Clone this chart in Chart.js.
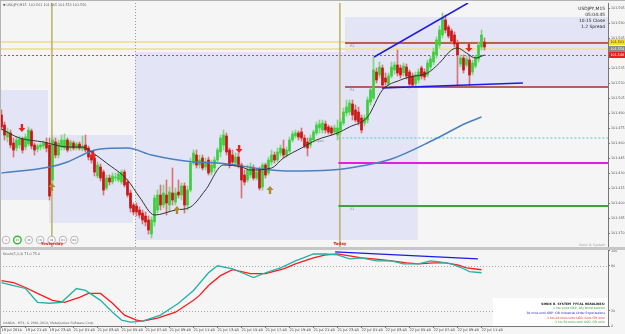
<!DOCTYPE html>
<html>
<head>
<meta charset="utf-8">
<title>USDJPY,M15</title>
<script src="https://cdn.jsdelivr.net/npm/chart.js@4.4.1/dist/chart.umd.min.js"></script>
<style>
  html, body { margin: 0; padding: 0; background: #f5f5f5; }
  #wrap { position: relative; width: 625px; height: 334px; overflow: hidden; }
  canvas { position: absolute; left: 0; }
  #main { top: 0; }
  #sub { top: 248px; }
  #sep { position: absolute; left: 0; top: 247px; width: 625px; height: 3px; background: #c6c6c6; }
  #edge { position: absolute; left: 0; top: 0; width: 625px; height: 334px; box-sizing: border-box;
          border-top: 1px solid #b4b4b4; border-left: 1px solid #b4b4b4; pointer-events: none; }
</style>
</head>
<body>
<div id="wrap">
  <canvas id="main" width="625" height="251"></canvas>
  <canvas id="sub" width="625" height="86"></canvas>
  <div id="sep"></div>
  <div id="edge"></div>
</div>
<script>
"use strict";

// USDJPY M15 candles, bar 0 = 18 Jul 19:45
const opens = [
  101.488,101.478,101.466,101.470,101.460,101.455,101.458,101.464,101.456,101.459,
  101.472,101.458,101.454,101.456,101.457,101.460,101.458,101.423,101.461,101.448,
  101.456,101.455,101.463,101.455,101.460,101.455,101.459,101.454,101.458,101.455,
  101.448,101.445,101.427,101.436,101.431,101.415,101.425,101.421,101.425,101.423,
  101.421,101.431,101.421,101.410,101.398,101.397,101.393,101.390,101.387,101.383,
  101.369,101.381,101.393,101.408,101.398,101.408,101.398,101.410,101.401,101.411,
  101.408,101.417,101.398,101.413,101.440,101.448,101.438,101.445,101.436,101.443,
  101.431,101.435,101.443,101.451,101.458,101.467,101.453,101.448,101.440,101.446,
  101.438,101.428,101.423,101.428,101.435,101.425,101.433,101.416,101.438,101.430,
  101.441,101.448,101.443,101.450,101.454,101.448,101.452,101.463,101.467,101.470,
  101.471,101.465,101.461,101.458,101.463,101.470,101.475,101.473,101.479,101.476,
  101.475,101.471,101.468,101.473,101.480,101.490,101.491,101.499,101.493,101.491,
  101.485,101.480,101.483,101.501,101.505,101.531,101.528,101.535,101.525,101.519,
  101.527,101.533,101.538,101.535,101.530,101.536,101.531,101.527,101.519,101.523,
  101.535,101.531,101.528,101.536,101.541,101.548,101.558,101.568,101.583,101.576,
  101.572,101.568,101.560,101.539,101.545,101.538,101.543,101.531,101.537,101.544,
  101.556,101.561
];
const highs = [
  101.493,101.481,101.475,101.473,101.465,101.466,101.467,101.466,101.469,101.476,
  101.474,101.460,101.459,101.460,101.462,101.465,101.465,101.466,101.465,101.463,
  101.468,101.469,101.465,101.463,101.462,101.461,101.461,101.467,101.468,101.457,
  101.451,101.447,101.441,101.439,101.433,101.428,101.428,101.430,101.430,101.431,
  101.433,101.433,101.423,101.413,101.400,101.400,101.396,101.393,101.391,101.387,
  101.386,101.408,101.413,101.418,101.418,101.423,101.416,101.435,101.415,101.423,
  101.420,101.420,101.417,101.445,101.453,101.453,101.448,101.448,101.445,101.446,
  101.443,101.446,101.455,101.468,101.473,101.470,101.455,101.453,101.450,101.450,
  101.440,101.433,101.438,101.440,101.438,101.435,101.436,101.440,101.440,101.446,
  101.453,101.451,101.455,101.458,101.463,101.456,101.466,101.472,101.473,101.472,
  101.475,101.468,101.465,101.468,101.473,101.481,101.483,101.483,101.482,101.478,
  101.477,101.478,101.483,101.485,101.495,101.503,101.503,101.503,101.498,101.496,
  101.488,101.488,101.506,101.515,101.546,101.535,101.541,101.538,101.530,101.530,
  101.541,101.541,101.553,101.538,101.540,101.539,101.533,101.530,101.531,101.534,
  101.537,101.534,101.543,101.547,101.555,101.566,101.577,101.590,101.588,101.578,
  101.574,101.571,101.563,101.548,101.548,101.547,101.547,101.543,101.548,101.561,
  101.573,101.565
];
const lows = [
  101.473,101.463,101.461,101.455,101.446,101.452,101.455,101.450,101.453,101.457,
  101.454,101.448,101.451,101.453,101.454,101.451,101.403,101.418,101.445,101.445,
  101.453,101.453,101.451,101.452,101.453,101.453,101.453,101.452,101.451,101.443,
  101.440,101.427,101.425,101.422,101.408,101.413,101.418,101.419,101.422,101.421,
  101.419,101.416,101.406,101.391,101.388,101.387,101.385,101.379,101.377,101.369,
  101.365,101.377,101.390,101.393,101.395,101.388,101.391,101.398,101.398,101.405,
  101.403,101.390,101.393,101.411,101.438,101.435,101.435,101.433,101.433,101.428,
  101.428,101.431,101.440,101.446,101.453,101.448,101.435,101.438,101.437,101.435,
  101.405,101.418,101.421,101.425,101.423,101.423,101.413,101.413,101.425,101.428,
  101.438,101.440,101.441,101.447,101.445,101.446,101.450,101.461,101.465,101.463,
  101.462,101.455,101.447,101.455,101.461,101.468,101.470,101.470,101.470,101.469,
  101.468,101.469,101.463,101.469,101.478,101.487,101.488,101.483,101.481,101.478,
  101.470,101.477,101.480,101.498,101.503,101.520,101.525,101.515,101.518,101.515,
  101.525,101.529,101.527,101.525,101.527,101.524,101.515,101.516,101.517,101.520,
  101.524,101.523,101.526,101.533,101.538,101.545,101.555,101.565,101.570,101.565,
  101.559,101.556,101.518,101.536,101.530,101.536,101.517,101.528,101.535,101.541,
  101.553,101.553
];
const closes = [
  101.476,101.468,101.471,101.458,101.453,101.463,101.464,101.453,101.466,101.473,
  101.457,101.453,101.457,101.458,101.460,101.455,101.407,101.463,101.448,101.460,
  101.463,101.463,101.453,101.461,101.455,101.459,101.455,101.457,101.453,101.446,
  101.443,101.431,101.438,101.425,101.413,101.425,101.421,101.427,101.426,101.429,
  101.431,101.418,101.408,101.395,101.391,101.391,101.388,101.383,101.381,101.373,
  101.383,101.405,101.408,101.398,101.410,101.400,101.411,101.403,101.410,101.408,
  101.417,101.398,101.413,101.440,101.450,101.438,101.443,101.435,101.441,101.430,
  101.438,101.443,101.453,101.465,101.468,101.451,101.438,101.441,101.446,101.438,
  101.423,101.421,101.433,101.436,101.425,101.431,101.415,101.438,101.428,101.443,
  101.448,101.443,101.451,101.455,101.448,101.453,101.463,101.469,101.470,101.466,
  101.465,101.457,101.455,101.465,101.471,101.478,101.479,101.480,101.473,101.471,
  101.470,101.475,101.475,101.481,101.491,101.496,101.500,101.488,101.483,101.481,
  101.473,101.485,101.503,101.513,101.533,101.523,101.536,101.518,101.521,101.527,
  101.536,101.538,101.530,101.528,101.537,101.527,101.519,101.518,101.528,101.531,
  101.527,101.526,101.540,101.544,101.551,101.563,101.573,101.585,101.573,101.567,
  101.562,101.559,101.548,101.545,101.533,101.544,101.528,101.540,101.546,101.558,
  101.568,101.556
];

// moving averages (read at a few bars)
const fastMaAt = [0, 6, 14, 22, 27, 30, 35, 42, 46, 51, 58, 63, 68, 74, 80, 83, 90, 94, 100, 105, 112, 116, 122, 127, 133, 136, 142, 146, 150, 152, 155, 158, 161];
const fastMa = [101.474, 101.465, 101.461, 101.456, 101.456, 101.451, 101.440, 101.423, 101.406, 101.388, 101.393, 101.396, 101.413, 101.438, 101.436, 101.433, 101.435, 101.445, 101.455, 101.463, 101.470, 101.476, 101.486, 101.513, 101.523, 101.526, 101.530, 101.540, 101.553, 101.555, 101.550, 101.545, 101.548];
const slowMaAt = [0, 16, 22, 30, 33, 42, 50, 64, 72, 90, 96, 110, 116, 130, 144, 155, 160];
const slowMa = [101.430, 101.436, 101.441, 101.452, 101.454, 101.455, 101.448, 101.441, 101.440, 101.433, 101.432, 101.433, 101.435, 101.444, 101.463, 101.480, 101.486];

// stochastic
const stochMainAt = [0, 4, 8, 12, 16, 20, 25, 28, 33, 37, 40, 43, 47, 53, 59, 64, 69, 72, 77, 84, 88, 93, 98, 104, 108, 112, 116, 120, 125, 130, 134, 139, 143, 146, 150, 154, 156, 160];
const stochMain = [57.9, 53.9, 50, 31.6, 30.3, 31.6, 50, 47.4, 34.2, 18.4, 7.9, 5.3, 6.6, 14.5, 30.3, 47.4, 71, 80.3, 76.3, 64.5, 71, 77.6, 86.8, 96, 96, 94.7, 89.5, 90.8, 86.8, 86.8, 82.9, 82.9, 86.8, 85.5, 82.9, 76.3, 72.4, 71];
const stochSignalAt = [0, 4, 8, 12, 17, 21, 26, 29, 33, 37, 41, 45, 47, 52, 58, 64, 66, 69, 73, 77, 83, 88, 94, 98, 104, 108, 112, 116, 120, 124, 130, 135, 139, 144, 148, 152, 155, 160];
const stochSignal = [60.5, 57.9, 51.3, 43.4, 34.2, 31.6, 38.2, 43.4, 43.4, 30.3, 14.5, 7.9, 6.6, 10.5, 18.4, 34.2, 40.8, 53.9, 67.1, 75, 69.7, 69.7, 76.3, 82.9, 90.8, 94.7, 96, 93.4, 90.8, 89.5, 86.8, 84.2, 82.9, 84.2, 84.2, 81.6, 77.6, 75];
const stochTrendAt = [111.2, 158.8];
const stochTrend = [98.7, 89.5];

// zones (bar from/to, price top/bottom)
const zoneFrom = [-0.5, 15.8, 44.5, 114.5];
const zoneTo = [15.5, 43.8, 138.8, 202.2];
const zoneTop = [101.513, 101.468, 101.551, 101.586];
const zoneBottom = [101.403, 101.380, 101.363, 101.515];

// levels
const dayLevels = [101.561, 101.554];
const bidPrice = 101.548;
const levelPrice = [101.560, 101.516, 101.465, 101.440, 101.397];
const levelFrom = [114.5, 114.5, 112.3, 112.3, 112.3];
const levelName = ['R2', 'R1', 'Open', '', 'S1'];
const levelNameAt = [117, 117, 106, 0, 117];

// trend lines
const upperTrendAt = [124.2, 155.5];
const upperTrend = [101.546, 101.600];
const lowerTrendAt = [126.8, 173.8];
const lowerTrend = [101.515, 101.520];

// signal arrows
const downAt = [6.8, 30.5, 79.2, 155.8];
const downPrice = [101.475, 101.448, 101.454, 101.555];
const upAt = [16.8, 58.5, 89.5];
const upPrice = [101.416, 101.393, 101.413];

// day lines and session break
const dayStarts = [16.8, 112.8];
const dayNames = ['Yesterday', 'Today'];
const sessionBreak = 44.5;

// axes
const priceTicks = [101.370, 101.385, 101.400, 101.415, 101.430, 101.445, 101.460, 101.475, 101.490, 101.505, 101.520, 101.535, 101.550, 101.565, 101.580, 101.595];
const stochTicks = [0, 20, 80, 100];
const stochLevels = [20, 80];
const timeAt = [0, 8, 16, 24, 32, 40, 48, 56, 64, 72, 80, 88, 96, 104, 112, 120, 128, 136, 144, 152, 160];
const timeLabels = ['18 Jul 2014', '18 Jul 21:45', '18 Jul 23:45', '21 Jul 01:45', '21 Jul 03:45', '21 Jul 05:45',
  '21 Jul 07:45', '21 Jul 09:45', '21 Jul 11:45', '21 Jul 13:45', '21 Jul 15:45', '21 Jul 17:45', '21 Jul 19:45',
  '21 Jul 21:45', '21 Jul 23:45', '22 Jul 01:45', '22 Jul 03:45', '22 Jul 05:45', '22 Jul 07:45', '22 Jul 09:45', '22 Jul 11:45'];

const infoLines = ['USDJPY,M15', '05:04:45', '10:15 Close', '1.2 Spread'];
const newsLines = ['SONIC R. SYSTEM  FFCAL HEADLINES:', '1 hrs since GBP: 10y Bond Auction',
  '38 mins until GBP: CBI Industrial Order Expectations', '3 hrs 28 mins until USD: Core CPI m/m',
  '3 hrs 58 mins until USD: CPI m/m'];
const buttonNames = ['1', '15', '30', 'H1', 'H4', 'D1', 'W1'];

const X_MIN = -0.5, X_MAX = 202.17;
const FONT = '"DejaVu Sans", sans-serif';

Chart.defaults.font.family = FONT;
Chart.defaults.color = '#444';

// helpers
function hLine(ctx, x0, x1, y) { ctx.beginPath(); ctx.moveTo(x0, y); ctx.lineTo(x1, y); ctx.stroke(); }
function vLine(ctx, x, y0, y1) { ctx.beginPath(); ctx.moveTo(x, y0); ctx.lineTo(x, y1); ctx.stroke(); }
function text(ctx, s, x, y, size, color, align, bold) {
  ctx.font = (bold ? 'bold ' : '') + size + 'px ' + FONT;
  ctx.fillStyle = color;
  ctx.textAlign = align || 'left';
  ctx.textBaseline = 'middle';
  ctx.fillText(s, x, y);
}
function arrow(ctx, cx, cy, down, color) {
  const s = down ? 1 : -1;
  ctx.fillStyle = color;
  ctx.beginPath();
  ctx.moveTo(cx - 1.2, cy - 4 * s);
  ctx.lineTo(cx + 1.2, cy - 4 * s);
  ctx.lineTo(cx + 1.2, cy);
  ctx.lineTo(cx + 3.5, cy);
  ctx.lineTo(cx, cy + 4 * s);
  ctx.lineTo(cx - 3.5, cy);
  ctx.lineTo(cx - 1.2, cy);
  ctx.closePath();
  ctx.fill();
}
function pts(xs, ys) { return xs.map((v, i) => ({ x: v, y: ys[i] })); }

// Main chart decorations
const mainDecor = {
  id: 'mainDecor',
  beforeDatasetsDraw(chart) {
    const { ctx, chartArea: a, scales: { x, y } } = chart;
    ctx.save();
    ctx.beginPath(); ctx.rect(a.left, a.top, a.right - a.left, a.bottom - a.top); ctx.clip();
    ctx.fillStyle = '#e4e4f7';
    zoneFrom.forEach((f, i) => {
      const x0 = x.getPixelForValue(f), x1 = x.getPixelForValue(zoneTo[i]);
      const y0 = y.getPixelForValue(zoneTop[i]), y1 = y.getPixelForValue(zoneBottom[i]);
      ctx.fillRect(x0, y0, x1 - x0, y1 - y0);
    });
    ctx.lineWidth = 2; ctx.strokeStyle = '#efe2a6';
    dayLevels.forEach(p => hLine(ctx, a.left, a.right, Math.round(y.getPixelForValue(p))));
    ctx.lineWidth = 1; ctx.setLineDash([2, 2]); ctx.strokeStyle = '#d84646';
    hLine(ctx, a.left, a.right, Math.round(y.getPixelForValue(bidPrice)) + 0.5);
    ctx.setLineDash([1, 2]); ctx.strokeStyle = '#9a9a9a';
    vLine(ctx, Math.round(x.getPixelForValue(sessionBreak)) + 0.5, a.top, a.bottom);
    ctx.setLineDash([]); ctx.strokeStyle = '#bcad66'; ctx.lineWidth = 1.5;
    dayStarts.forEach(v => vLine(ctx, x.getPixelForValue(v), a.top, a.bottom));
    ctx.restore();
  },
  afterDatasetsDraw(chart) {
    const { ctx, scales: { x, y } } = chart;
    ctx.save();
    downAt.forEach((v, i) => arrow(ctx, x.getPixelForValue(v), y.getPixelForValue(downPrice[i]), true, '#e8251e'));
    upAt.forEach((v, i) => arrow(ctx, x.getPixelForValue(v), y.getPixelForValue(upPrice[i]), false, '#ad8a2c'));
    levelName.forEach((n, i) => {
      if (n) text(ctx, n, x.getPixelForValue(levelNameAt[i]), y.getPixelForValue(levelPrice[i]) + 3.5, 3.4, '#8a8a8a', 'center');
    });
    ctx.restore();
  },
  afterDraw(chart) {
    const { ctx, chartArea: a, scales: { x, y } } = chart;
    ctx.save();
    // price tags on the axis
    const tags = [[dayLevels[0], '#f4e21c', '#333'], [dayLevels[1], '#8a8a8a', '#fff'], [bidPrice, '#e62020', '#fff']];
    tags.forEach(([p, bg, fg]) => {
      const py = Math.round(y.getPixelForValue(p));
      ctx.fillStyle = bg;
      ctx.fillRect(a.right + 1, py - 3, chart.width - a.right - 1, 6);
      text(ctx, p.toFixed(3), a.right + 2.5, py + 0.3, 3.3, fg);
    });
    // header texts
    const n = closes.length - 1;
    text(ctx, '\u25BC USDJPY,M15  ' + [opens[n], highs[n], lows[n], closes[n]].map(v => v.toFixed(3)).join(' '),
      3, 5, 3.3, '#555');
    infoLines.forEach((s, i) => text(ctx, s, a.right - 3, 9 + i * 6, 4.4, '#222', 'right'));
    // timeframe buttons
    buttonNames.forEach((b, i) => {
      const cx = 6 + i * 11.4, cy = 240;
      ctx.beginPath(); ctx.arc(cx, cy, 3.8, 0, Math.PI * 2);
      ctx.fillStyle = '#f8f8f8'; ctx.fill();
      ctx.lineWidth = i === 1 ? 1.4 : 0.8; ctx.strokeStyle = i === 1 ? '#2fbf2f' : '#a8a8a8'; ctx.stroke();
      text(ctx, b, cx, cy + 0.2, 2.6, '#666', 'center');
    });
    // day names on top of the buttons
    dayStarts.forEach((v, i) => text(ctx, dayNames[i], x.getPixelForValue(v), i ? 244 : 243.5, 4, '#e02020', 'center', true));
    text(ctx, 'Sonic R. System', a.right - 3, 245, 3.2, '#9a9a9a', 'right');
    ctx.restore();
  }
};

const up = closes.map((c, i) => c >= opens[i]);

new Chart(document.getElementById('main'), {
  type: 'bar',
  data: {
    datasets: [
      ...levelPrice.map((p, i) => ({
        type: 'line', data: [{ x: levelFrom[i], y: p }, { x: X_MAX, y: p }],
        borderColor: ['#a83232', '#a83232', '#4cc6c6', '#e020e0', '#3fa23f'][i],
        borderWidth: [1.5, 1.5, 1, 2, 2][i], borderDash: i === 2 ? [2, 2] : [],
        pointRadius: 0, order: 6
      })),
      { type: 'bar', data: lows.map((l, i) => ({ x: i, y: [l, highs[i]] })),
        backgroundColor: up.map(u => u ? '#7ed87e' : '#da7272'), barThickness: 1, grouped: false, order: 5 },
      { type: 'bar', data: opens.map((o, i) => ({ x: i, y: [o, closes[i]] })),
        backgroundColor: up.map(u => u ? '#3ccf3c' : '#cc1414'), barThickness: 2, minBarLength: 1, grouped: false, order: 4 },
      { type: 'line', data: pts(slowMaAt, slowMa), borderColor: '#4a80c0', borderWidth: 1.5,
        pointRadius: 0, cubicInterpolationMode: 'monotone', order: 2 },
      { type: 'line', data: pts(fastMaAt, fastMa), borderColor: '#333333', borderWidth: 1,
        pointRadius: 0, cubicInterpolationMode: 'monotone', order: 1 },
      { type: 'line', data: pts(upperTrendAt, upperTrend), borderColor: '#1c1ce0', borderWidth: 1.5, pointRadius: 0, order: 0 },
      { type: 'line', data: pts(lowerTrendAt, lowerTrend), borderColor: '#1c1ce0', borderWidth: 1.5, pointRadius: 0, order: 0 }
    ]
  },
  options: {
    responsive: false,
    animation: false,
    events: [],
    layout: { padding: { top: 3, left: 0, right: 0, bottom: 0 } },
    plugins: { legend: { display: false }, tooltip: { enabled: false } },
    scales: {
      x: { type: 'linear', min: X_MIN, max: X_MAX, offset: false, display: false },
      y: {
        position: 'right', min: 101.355, max: 101.600,
        afterFit: s => { s.width = 17; },
        afterBuildTicks: s => { s.ticks = priceTicks.map(v => ({ value: v })); },
        ticks: { font: { size: 3.3 }, color: '#555', padding: 1, callback: v => Number(v).toFixed(3) },
        grid: { drawOnChartArea: false, tickLength: 2, color: '#777' },
        border: { display: true, color: '#777' }
      }
    }
  },
  plugins: [mainDecor]
});

// Lower panel decorations
const subDecor = {
  id: 'subDecor',
  beforeDatasetsDraw(chart) {
    const { ctx, chartArea: a, scales: { x, y } } = chart;
    ctx.save();
    ctx.lineWidth = 1; ctx.setLineDash([1, 2]); ctx.strokeStyle = '#a8a8a8';
    stochLevels.forEach(v => hLine(ctx, a.left, a.right, Math.round(y.getPixelForValue(v)) + 0.5));
    ctx.strokeStyle = '#9a9a9a';
    vLine(ctx, Math.round(x.getPixelForValue(sessionBreak)) + 0.5, a.top, a.bottom);
    ctx.restore();
  },
  afterDraw(chart) {
    const { ctx, chartArea: a } = chart;
    ctx.save();
    const n = stochMain.length - 1;
    text(ctx, 'Stoch(5,3,3) ' + stochMain[n].toFixed(1) + ' ' + stochSignal[stochSignal.length - 1].toFixed(1),
      3, a.top + 3, 3.3, '#555');
    text(ctx, 'OANDA - MT4, \u00A9 2001-2014, MetaQuotes Software Corp.', 3, a.bottom - 3, 3.2, '#666');
    const bx = a.right - 115, by = a.bottom - 28;
    ctx.fillStyle = '#ffffff';
    ctx.fillRect(bx, by, a.right - bx, a.bottom - by);
    const colors = ['#111', '#2a9a2a', '#1a1ae0', '#e02020', '#2a9a2a'];
    newsLines.forEach((s, i) => text(ctx, s, a.right - 3, by + 6 + i * 4.6, 3, colors[i], 'right', i === 0));
    ctx.restore();
  }
};

new Chart(document.getElementById('sub'), {
  type: 'line',
  data: {
    datasets: [
      { data: pts(stochMainAt, stochMain), borderColor: '#22b2a8', borderWidth: 1.3, pointRadius: 0 },
      { data: pts(stochSignalAt, stochSignal), borderColor: '#ff1a1a', borderWidth: 1.3, pointRadius: 0 },
      { data: pts(stochTrendAt, stochTrend), borderColor: '#1c1ce0', borderWidth: 1.3, pointRadius: 0 }
    ]
  },
  options: {
    responsive: false,
    animation: false,
    events: [],
    layout: { padding: { top: 2, left: 0, right: 0, bottom: 0 } },
    plugins: { legend: { display: false }, tooltip: { enabled: false } },
    scales: {
      x: {
        type: 'linear', min: X_MIN, max: X_MAX, offset: false,
        afterFit: s => { s.height = 8; },
        afterBuildTicks: s => { s.ticks = timeAt.map(v => ({ value: v })); },
        ticks: {
          autoSkip: false, maxRotation: 0, minRotation: 0, align: 'start', padding: 0,
          font: { size: 3.6 }, color: '#444',
          callback: v => { const k = timeAt.indexOf(v); return k >= 0 ? timeLabels[k] : ''; }
        },
        grid: { drawOnChartArea: false, tickLength: 2, color: '#777' },
        border: { display: true, color: '#777' }
      },
      y: {
        position: 'right', min: 0, max: 100,
        afterFit: s => { s.width = 17; },
        afterBuildTicks: s => { s.ticks = stochTicks.map(v => ({ value: v })); },
        ticks: { font: { size: 3.3 }, color: '#555', padding: 1 },
        grid: { drawOnChartArea: false, tickLength: 2, color: '#777' },
        border: { display: true, color: '#777' }
      }
    }
  },
  plugins: [subDecor]
});
</script>
</body>
</html>
